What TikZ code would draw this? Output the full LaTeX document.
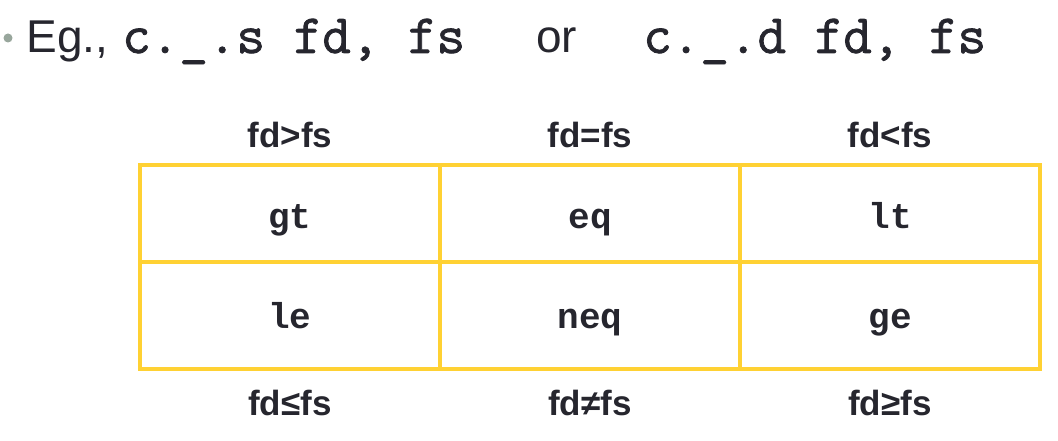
\documentclass[tikz,border=0pt]{standalone}
\usepackage{fontspec}
\setmainfont{Liberation Sans}
\newfontfamily\cellmono{Liberation Mono}
\newfontfamily\codemono{Latin Modern Mono}[FakeBold=1.4]
\usepackage{xcolor}
\usetikzlibrary{positioning}

\definecolor{gridyellow}{RGB}{255,209,51}
\definecolor{inkdark}{RGB}{38,38,46}
\definecolor{dotgrey}{RGB}{152,166,156}

\begin{document}
\begin{tikzpicture}[x=1pt, y=1pt, inkdark,
    cell/.style={draw=gridyellow, line width=4pt, minimum width=300pt, outer sep=0pt, inner sep=0pt,
        font=\fontsize{36}{40}\selectfont\cellmono\bfseries},
    toprow/.style={cell, minimum height=97pt, text height=30pt, text depth=0pt},
    botrow/.style={cell, minimum height=107pt, text height=26pt, text depth=0pt},
    cond/.style={inner sep=0pt, text height=26pt, text depth=0pt, font=\fontsize{35}{40}\selectfont\bfseries},
    intro/.style={anchor=base west, inner sep=0pt, font=\fontsize{46}{50}\selectfont},
    code/.style={anchor=base west, inner sep=0pt, font=\fontsize{55.5}{60}\selectfont\codemono}]

    \useasboundingbox (0,0) rectangle (1058,440);

    % first line
    \node[circle, fill=dotgrey, inner sep=0pt, minimum size=9pt] (dot) at (8,402) {};
    \node[intro] (eg) at (26.5,387) {Eg.,};
    \node[code] (cs) at (122,387) {c.\_.s fd, fs};
    \node[intro] (or) at (536,387) {or};
    \node[code] (cd) at (643,387) {c.\_.d fd, fs};

    % the table
    \node[toprow] (gt) at (290,226.5) {gt};
    \node[toprow, right=0pt of gt] (eq) {eq};
    \node[toprow, right=0pt of eq] (lt) {lt};
    \node[botrow, below=0pt of gt] (le) {le};
    \node[botrow, below=0pt of eq] (neq) {neq};
    \node[botrow, below=0pt of lt] (ge) {ge};

    % conditions above and below
    \node[cond, above=17pt of gt] (gtHead) {fd>fs};
    \node[cond, above=17pt of eq] (eqHead) {fd=fs};
    \node[cond, above=17pt of lt] (ltHead) {fd<fs};
    \node[cond, below=20pt of le] (leFoot) {fd≤fs};
    \node[cond, below=20pt of neq] (neqFoot) {fd≠fs};
    \node[cond, below=20pt of ge] (geFoot) {fd≥fs};

\end{tikzpicture}
\end{document}
